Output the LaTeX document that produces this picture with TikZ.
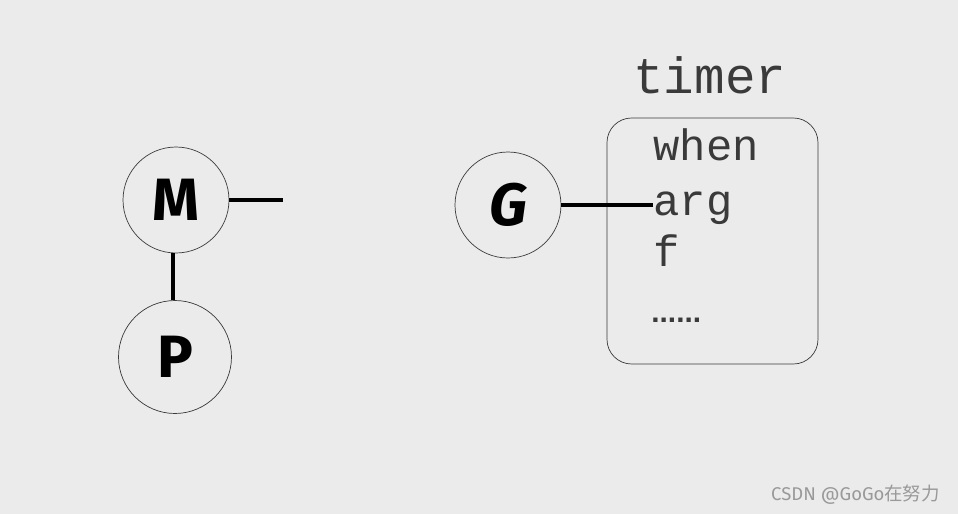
\documentclass[tikz,border=0pt]{standalone}
\usepackage{fontspec}
\setmainfont{Fira Sans}
\newfontfamily\monofont{Liberation Mono}
\newfontfamily\dotfont{Liberation Sans}
\newfontfamily\cjkfont{Noto Sans CJK SC}
\usetikzlibrary{positioning}
\definecolor{bggray}{HTML}{EBEBEB}
\definecolor{inkgray}{HTML}{3A3A3A}
\tikzset{
  proc/.style={draw=inkgray, circle, thin, minimum size=2.12cm, inner sep=0pt,
    font=\bfseries\fontsize{34}{34}\selectfont},
  link/.style={line width=2.3pt, black},
  field/.style={anchor=base west, inner sep=0pt, text=inkgray,
    font=\monofont\fontsize{25}{25}\selectfont}
}
\begin{document}
\begin{tikzpicture}[x=0.02cm, y=-0.02cm]
  \fill[bggray] (0,0) rectangle (958,514);
  \useasboundingbox (0,0) rectangle (958,514);
  % M and P
  \node[proc] (M) at (176,200) {M};
  \node[proc, minimum size=2.26cm] (P) at (175,357) {P};
  \coordinate (Mend) at (283,200);
  \draw[link] (M) -- (Mend);
  \draw[link] (M.south) ++(-3,0) coordinate (Mtop) -- (Mtop |- P.north);
  % G and timer
  \node[proc] (G) at (508,205) {\textit{G}};
  \draw[draw=inkgray, thin, rounded corners=14pt] (607,118) rectangle (818,364);
  \node[field, font=\monofont\fontsize{29}{29}\selectfont] (timer) at (633,93) {timer};
  \node[field] (when) at (653,160) {when};
  \node[field] (arg) at (653,215) {arg};
  \node[field] (f) at (653,266) {f};
  \node[field, font=\dotfont\bfseries\fontsize{17}{17}\selectfont] (dots) at (651,322) {......};
  \draw[link] (G.east) -- (G.east -| arg.west);
  % watermark
  \node[anchor=east, text=gray!80, font=\fontsize{10.5}{10.5}\selectfont] (mark) at (946,495)
    {CSDN @GoGo{\cjkfont 在努力}};
\end{tikzpicture}
\end{document}
